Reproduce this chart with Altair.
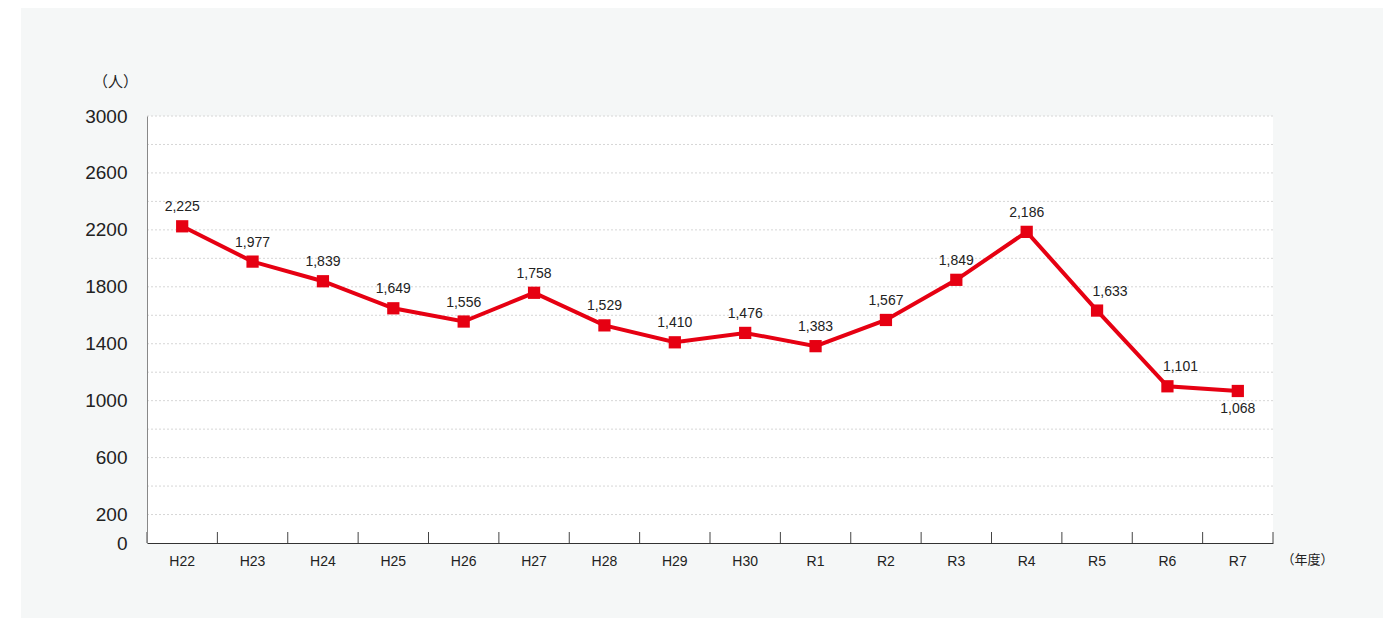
import altair as alt
import pandas as pd

categories = ['H22', 'H23', 'H24', 'H25', 'H26', 'H27', 'H28', 'H29', 'H30',
              'R1', 'R2', 'R3', 'R4', 'R5', 'R6', 'R7']
values = [2225, 1977, 1839, 1649, 1556, 1758, 1529, 1410, 1476,
          1383, 1567, 1849, 2186, 1633, 1101, 1068]
label_pos = ['above'] * 13 + ['above_right', 'above_right', 'below']
y_label_values = [0, 200, 600, 1000, 1400, 1800, 2200, 2600, 3000]
grid_values = [200, 400, 600, 800, 1000, 1200, 1400, 1600, 1800, 2000,
               2200, 2400, 2600, 2800, 3000]

W, H = 1126, 427
RED = '#e60012'
FONT = 'Liberation Sans'
JP = 'Noto Sans CJK JP'

df = pd.DataFrame({'cat': categories, 'val': values, 'pos': label_pos})
grid_df = pd.DataFrame({'val': grid_values})
one = pd.DataFrame({'a': [0]})

xscale = alt.Scale(type='band', domain=categories, paddingInner=0, paddingOuter=0)
yscale = alt.Scale(domain=[0, 3000], nice=False, zero=True)

x_axis = alt.Axis(ticks=False, grid=False, domainColor='#333', domainWidth=1,
                  labelAngle=0, labelFontSize=14, labelPadding=11, labelColor='#222',
                  labelFont=FONT, title='（年度）', titleX=1160, titleY=16,
                  titleFontSize=13, titleFont=JP, titleFontWeight='normal',
                  titleColor='#222', titleAlign='center', titleBaseline='middle',
                  zindex=1)
y_axis = alt.Axis(values=y_label_values, format='d', ticks=False, grid=False,
                  domainColor='#888', domainWidth=1, labelFontSize=19, labelColor='#222',
                  labelPadding=20, labelFont=FONT, title='（人）', titleAngle=0,
                  titleX=-32, titleY=-35, titleFontSize=15, titleFont=JP,
                  titleFontWeight='normal', titleColor='#222', titleAlign='center',
                  titleBaseline='middle', zindex=1)

bg = alt.Chart(one).mark_rect(color='#f5f7f7').encode(
    x=alt.value(-126), x2=alt.value(W + 110), y=alt.value(-109), y2=alt.value(H + 82))
plot_bg = alt.Chart(one).mark_rect(color='#ffffff').encode(
    x=alt.value(0), x2=alt.value(W), y=alt.value(0), y2=alt.value(H))

grid = alt.Chart(grid_df).mark_rule(color='#d6d6d6', strokeDash=[2, 2], strokeWidth=1).encode(
    y=alt.Y('val:Q', scale=yscale, axis=y_axis),
    x=alt.value(0), x2=alt.value(W))

ticks_left = alt.Chart(df).mark_rule(color='#444', strokeWidth=1).encode(
    x=alt.X('cat:N', scale=xscale, sort=categories, bandPosition=0, axis=x_axis),
    y=alt.value(H - 11), y2=alt.value(H))
ticks_right = alt.Chart(df).transform_filter(
    alt.datum.cat == categories[-1]).mark_rule(color='#444', strokeWidth=1).encode(
    x=alt.X('cat:N', scale=xscale, sort=categories, bandPosition=1, axis=x_axis),
    y=alt.value(H - 11), y2=alt.value(H))

base = alt.Chart(df).encode(
    x=alt.X('cat:N', scale=xscale, sort=categories, bandPosition=0.5, axis=x_axis),
    y=alt.Y('val:Q', scale=yscale, axis=y_axis))

line = base.mark_line(color=RED, strokeWidth=4)
points = base.mark_point(shape='square', filled=True, size=150, color=RED, opacity=1)

def labels(pos, dx, dy):
    return base.transform_filter(alt.datum.pos == pos).mark_text(
        dx=dx, dy=dy, fontSize=14, font=FONT, color='#222').encode(
        text=alt.Text('val:Q', format=','))

labels_above = labels('above', 0, -19)
labels_above_right = labels('above_right', 13, -19)
labels_below = labels('below', 0, 18)

chart = alt.layer(bg, plot_bg, grid, ticks_left, ticks_right, line, points,
                  labels_above, labels_above_right, labels_below).properties(
    width=W, height=H, autosize='none',
    padding={'left': 139, 'top': 108, 'right': 110, 'bottom': 75},
    background='#ffffff'
).configure_view(strokeWidth=0)

chart.save('out.html', embed_options={'renderer': 'svg', 'actions': False})
